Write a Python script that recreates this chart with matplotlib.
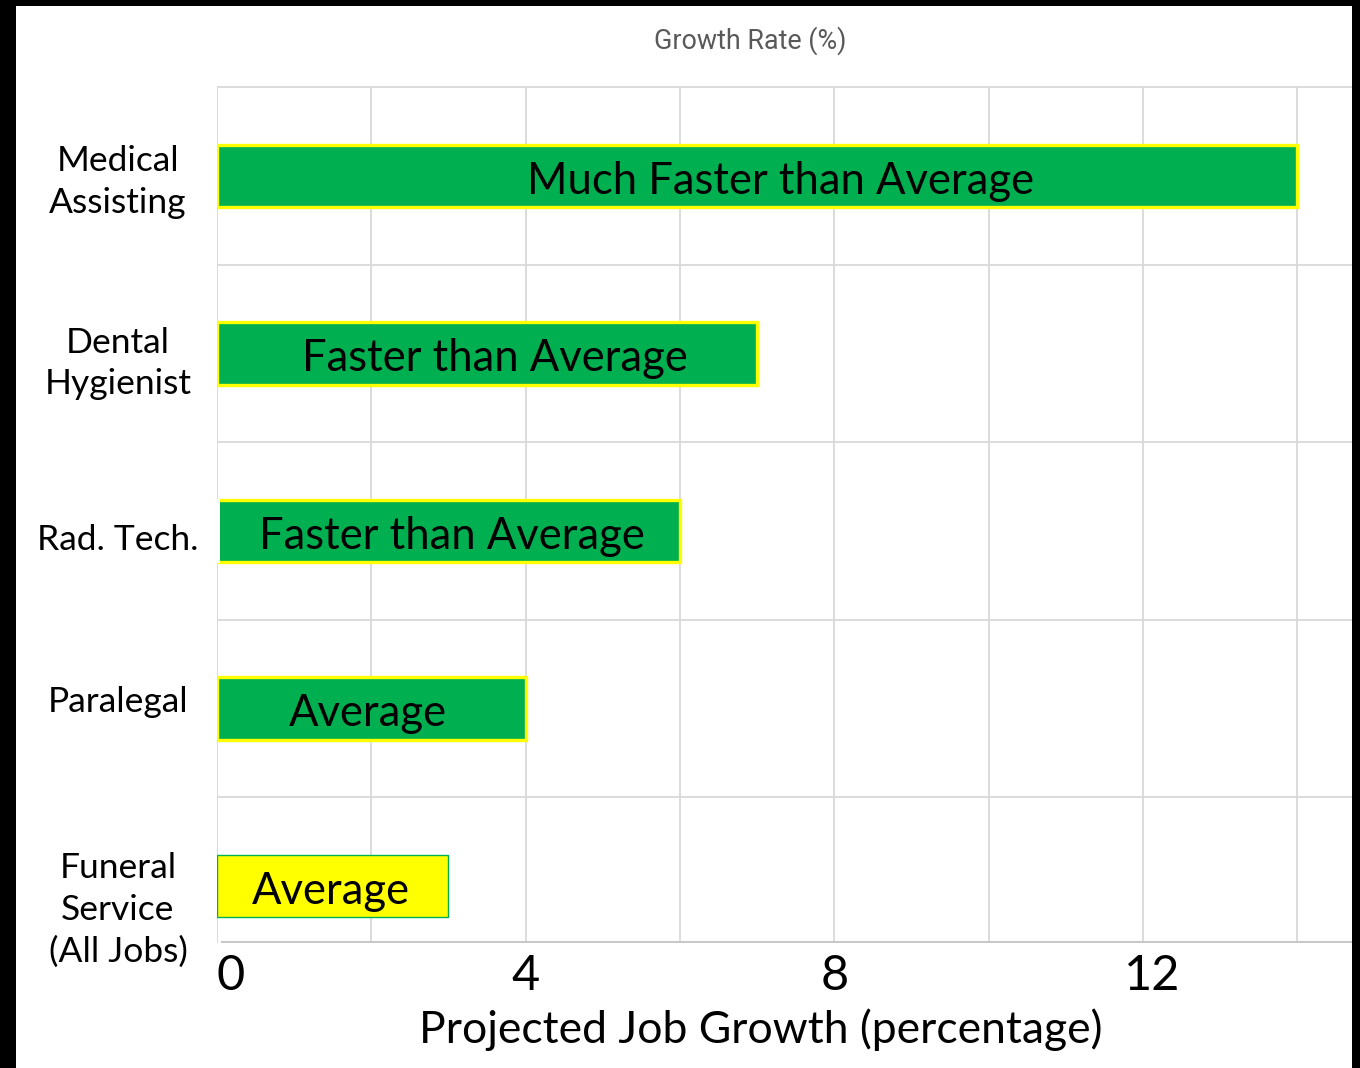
import matplotlib
matplotlib.use("Agg")
import matplotlib.pyplot as plt
from matplotlib.patches import Rectangle
import matplotlib.transforms as mtransforms

# ---------------- data ----------------
categories = ["Medical\nAssisting", "Dental\nHygienist", "Rad. Tech.", "Paralegal",
              "Funeral\nService\n(All Jobs)"]
growth = [14, 7, 6, 4, 3]
bar_labels = ["Much Faster than Average", "Faster than Average", "Faster than Average",
              "Average", "Average"]
xticks = [0, 4, 8, 12]
xtick_labels = ["0", "4", "8", "12"]
title = "Growth Rate (%)"
xlabel = "Projected Job Growth (percentage)"

# ---------------- style ----------------
GREEN = "#00B050"
YELLOW = "#FFFF00"
GRID = "#D9D9D9"
FONT = "Lato"

W, H = 1360, 1068
fig = plt.figure(figsize=(W / 100, H / 100), dpi=100)
fig.patch.set_facecolor("black")
bg = Rectangle((16 / W, 0), (1352 - 16) / W, 1 - 6 / H,
               transform=fig.transFigure, facecolor="white",
               edgecolor="none", zorder=-10)
fig.patches.append(bg)

ax = fig.add_axes([217 / W, 1 - 943 / H, (1352 - 217) / W, (943 - 86) / H])
ax.set_facecolor("none")
ax.set_zorder(1)

n = len(categories)
ypos = [n - 1 - i for i in range(n)]

ax.set_xlim(0, 14.71)
ax.set_ylim(-0.321, n - 1 + 0.507)

# grid
for gx in range(0, 15, 2):
    ax.axvline(gx, color=GRID, lw=1.3, zorder=1)
for gy in [k + 0.5 for k in range(n)]:
    ax.axhline(gy, color=GRID, lw=1.3, zorder=1)
for s in ax.spines.values():
    s.set_visible(False)
ax.axhline(-0.321 + 0.004, xmin=0.004, color="#C8C8C8", lw=2.2, zorder=1)

# bars
faces = [GREEN, GREEN, GREEN, GREEN, YELLOW]
edges = [YELLOW, YELLOW, YELLOW, YELLOW, GREEN]
lws = [2.4, 2.4, 2.4, 2.4, 1.0]
for y, v, fc, ec, lw in zip(ypos, growth, faces, edges, lws):
    ax.barh(y, v, height=0.35, color=fc, edgecolor=ec, linewidth=lw, zorder=3)

# bar labels
label_dx = [0.3, 0.1, 0.05, -0.05, -0.03]
for y, v, t, dx in zip(ypos, growth, bar_labels, label_dx):
    ax.text(v / 2 + dx, y - 0.03, t, ha="center", va="center", fontsize=31.4,
            family=FONT, color="black", zorder=4)

# y category labels
trans = mtransforms.blended_transform_factory(fig.transFigure, ax.transData)
label_dy = [-0.034, -0.056, -0.05, 0.034, -0.135]
for y, c, dy in zip(ypos, categories, label_dy):
    ax.text(118 / W, y + dy, c, transform=trans, ha="center", va="center",
            fontsize=25.5, family=FONT, linespacing=1.37, color="black", zorder=5,
            clip_on=False)
# white patch behind Rad. Tech. (covers the axis edge there)
ax.add_patch(Rectangle((16 / W, 2 - 0.18), (220 - 16) / W, 0.36, transform=trans,
                       facecolor="white", edgecolor="none", zorder=3.5, clip_on=False))

# x ticks
ax.set_xticks(xticks)
ax.set_xticklabels(xtick_labels, fontsize=35, family=FONT)
ax.tick_params(axis="x", length=0, pad=8)
ax.set_yticks([])
tls = ax.get_xticklabels()
tls[0].set_horizontalalignment("left")
tls[-1].set_transform(tls[-1].get_transform() +
                      mtransforms.ScaledTranslation(0.09, 0, fig.dpi_scale_trans))

# title & x label
fig.text(750 / W, 1 - 41 / H, title, ha="center", va="center", fontsize=19.4,
         family="Roboto", color="#595959")
fig.text(761 / W, 1 - 1030 / H, xlabel, ha="center", va="center", fontsize=32,
         family=FONT, color="black")

fig.savefig("out.png", dpi=100, facecolor=fig.get_facecolor())
